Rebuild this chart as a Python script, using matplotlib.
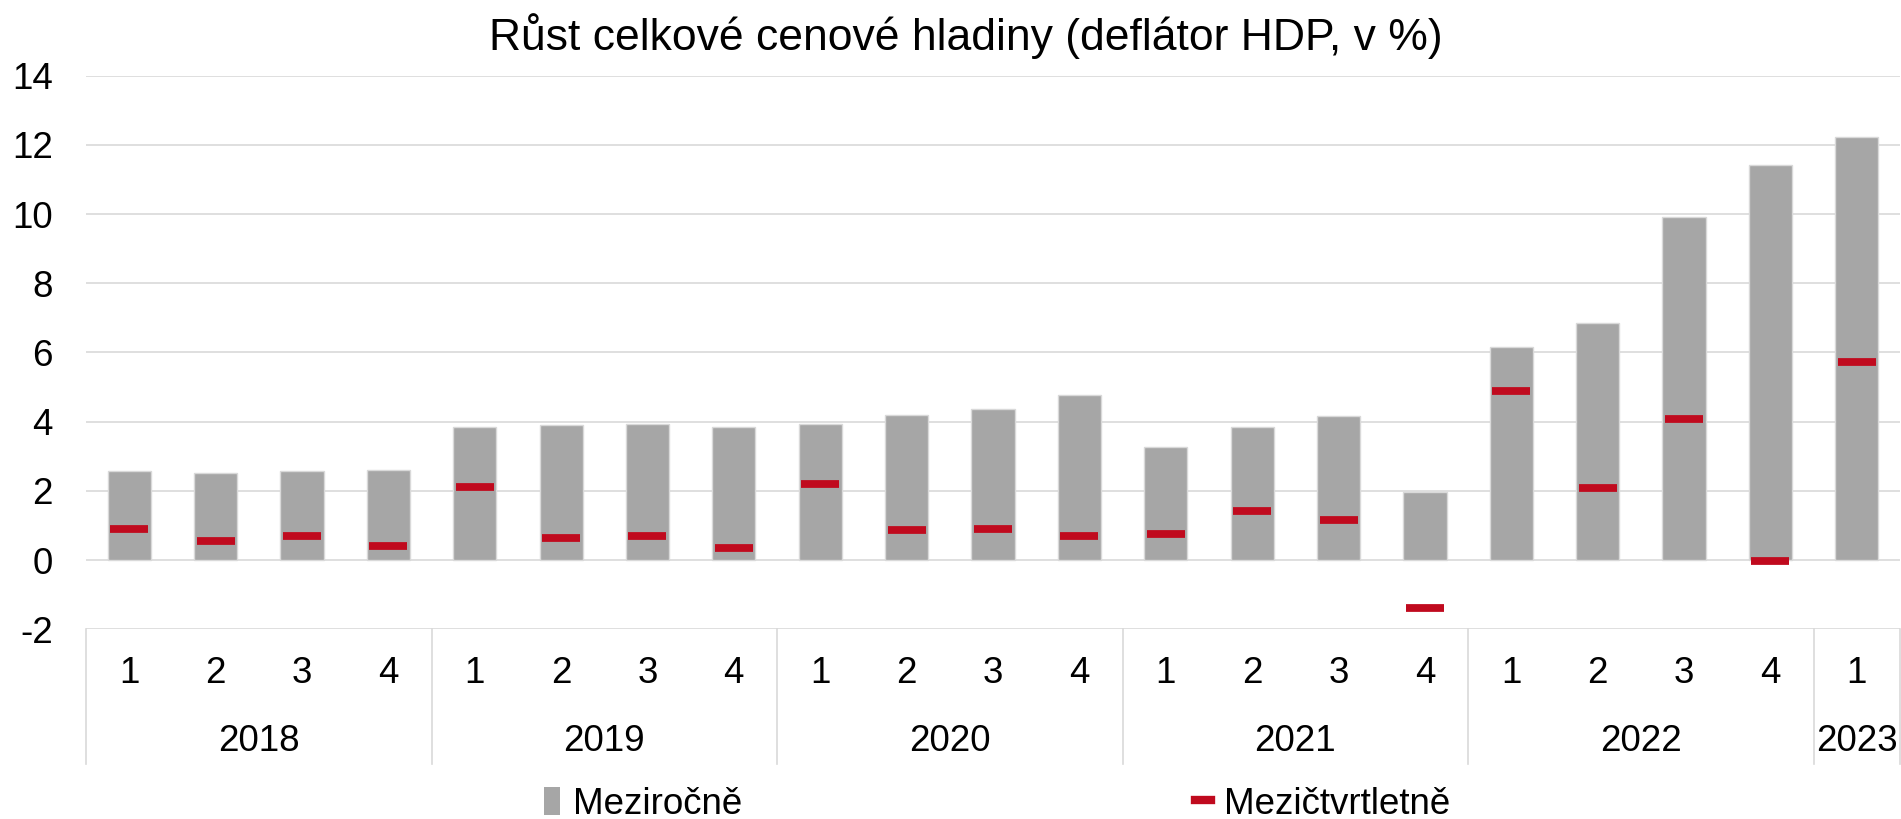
"""
Growth of the overall price level (GDP deflator), y/y bars and q/q markers
"""
import matplotlib
matplotlib.use("Agg")
import matplotlib.pyplot as plt
from matplotlib.lines import Line2D
from matplotlib.patches import Patch

plt.rcParams['font.family'] = ['Liberation Sans', 'DejaVu Sans']
plt.rcParams['axes.unicode_minus'] = False

years = ["2018", "2019", "2020", "2021", "2022", "2023"]
quarters = ["1", "2", "3", "4"] * 5 + ["1"]
mezirocne = [2.57, 2.53, 2.57, 2.59, 3.85, 3.91, 3.94, 3.85, 3.94, 4.18, 4.38,
             4.77, 3.28, 3.86, 4.15, 1.97, 6.16, 6.85, 9.91, 11.41, 12.24]
mezictvrtletne = [0.91, 0.55, 0.70, 0.41, 2.12, 0.64, 0.70, 0.35, 2.20, 0.87, 0.91,
                  0.70, 0.76, 1.43, 1.16, -1.38, 4.89, 2.09, 4.08, -0.03, 5.71]

GREY = "#A6A6A6"
RED = "#C00A1E"
LINE = "#D9D9D9"
FS = 26.5

fig = plt.figure(figsize=(19.01, 8.19), dpi=100)
ax = fig.add_axes([86 / 1901, 1 - 629.3 / 819, 1814 / 1901, 553.7 / 819])

x = list(range(len(mezirocne)))
ax.bar(x, mezirocne, width=0.5, color=GREY, edgecolor=LINE, linewidth=1, zorder=2)
ax.plot(x, mezictvrtletne, linestyle="none", marker="_", markersize=27.5,
        markeredgewidth=5.6, color=RED, zorder=3)

ax.set_xlim(-0.5, len(x) - 0.5)
ax.set_ylim(-2, 14)
ax.set_yticks(range(-2, 15, 2))
ax.yaxis.grid(True, color=LINE, linewidth=1.2)
ax.set_axisbelow(True)
for s in ax.spines.values():
    s.set_visible(False)
ax.tick_params(axis="y", length=0, pad=24, labelsize=FS)
ax.set_xticks(x)
ax.set_xticklabels([])
ax.tick_params(axis="x", length=0)

tr = ax.get_xaxis_transform()
for i, q in enumerate(quarters):
    ax.text(i, -0.08, q, transform=tr, ha="center", va="center", fontsize=FS)

# year groups and separators
starts = [0, 4, 8, 12, 16, 20]
ends = [4, 8, 12, 16, 20, 21]
for yr, a, b in zip(years, starts, ends):
    ax.text((a + b - 1) / 2, -0.203, yr, transform=tr, ha="center", va="center",
            fontsize=FS)
for b in [0] + ends:
    ax.add_line(Line2D([b - 0.5, b - 0.5], [0, -0.243], transform=tr,
                       color=LINE, linewidth=1.2, clip_on=False))

fig.text(0.508, 0.956, "Růst celkové cenové hladiny (deflátor HDP, v %)",
         ha="center", va="center", fontsize=32)

handles = [Patch(facecolor=GREY, edgecolor="none"),
           Line2D([], [], color=RED, linewidth=6)]
fig.legend(handles, ["Meziročně", "Mezičtvrtletně"], loc="center",
           bbox_to_anchor=(0.5245, 1 - 804 / 819), ncol=2, frameon=False,
           fontsize=FS, handlelength=0.45, handleheight=0.8, handletextpad=0.35,
           columnspacing=12.3)

fig.savefig("out.png", dpi=100)
